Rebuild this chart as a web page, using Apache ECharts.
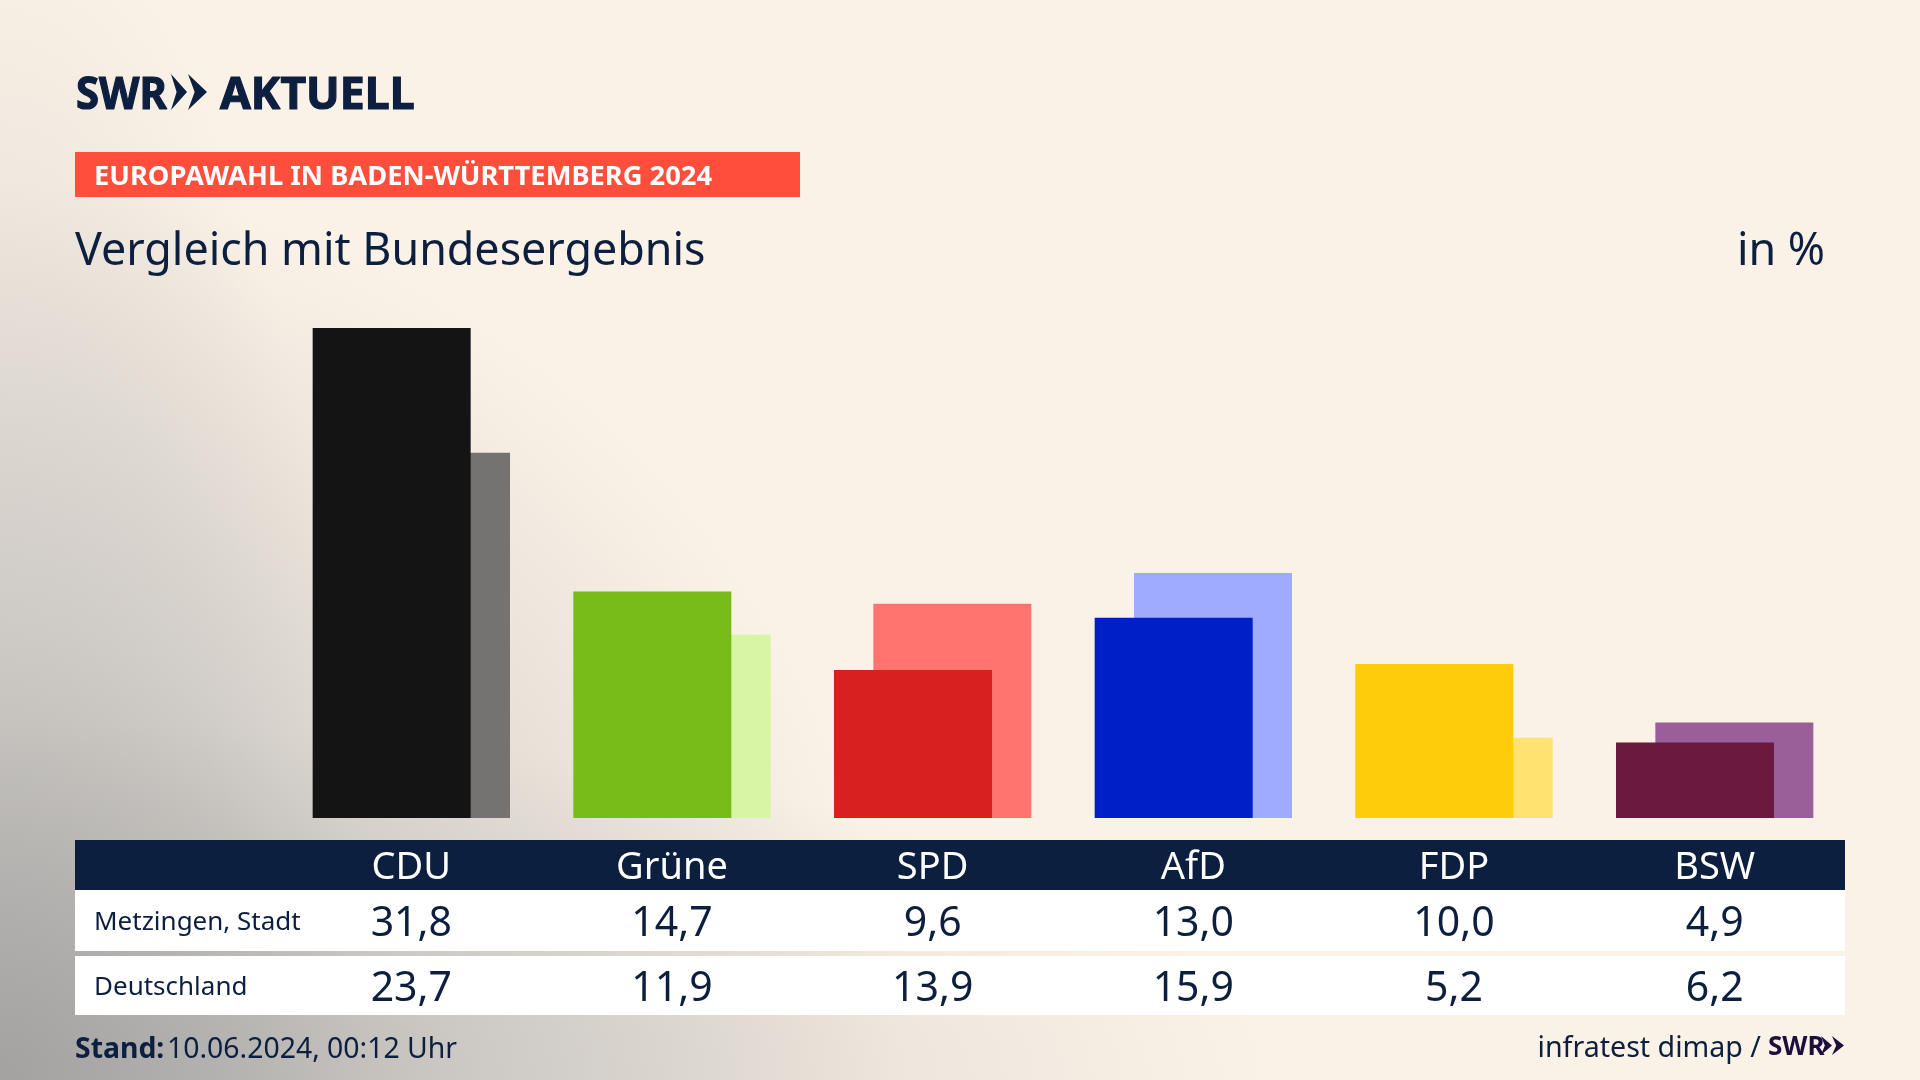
<!DOCTYPE html>
<html>
<head>
<meta charset="UTF-8">
<title>Europawahl in Baden-Württemberg 2024</title>
<script src="https://cdn.jsdelivr.net/npm/echarts@6/dist/echarts.min.js"></script>
<style>
	html, body { margin: 0; padding: 0; width: 1920px; height: 1080px; overflow: hidden; }
	body {
		background:
			radial-gradient(ellipse 900px 900px at 0% 100%, rgba(150,150,150,.70) 0%, rgba(170,170,170,.38) 50%, rgba(190,190,190,0) 100%),
			radial-gradient(ellipse 1280px 360px at 0% 100%, rgba(170,170,170,.50) 0%, rgba(170,170,170,.22) 60%, rgba(170,170,170,0) 100%),
			radial-gradient(ellipse 360px 1200px at 0% 100%, rgba(170,170,170,.42) 0%, rgba(170,170,170,.18) 65%, rgba(170,170,170,0) 100%),
			#fbf2e7;
	}
	#chart { width: 1920px; height: 1080px; }
</style>
</head>
<body>
<div id="chart"></div>
<script>
var parties = ['CDU', 'Grüne', 'SPD', 'AfD', 'FDP', 'BSW'];
var metzingen = [31.8, 14.7, 9.6, 13.0, 10.0, 4.9];
var deutschland = [23.7, 11.9, 13.9, 15.9, 5.2, 6.2];
var colorsMain = ['#141414', '#78bc1a', '#d8201e', '#001fc7', '#ffcc0c', '#6b193f'];
var colorsBund = ['#747372', '#d8f5a6', '#ff746e', '#9eabff', '#ffe26f', '#9a5f99'];

var navy = '#0c1f3f';
var font = '"Noto Sans", sans-serif';
var baseY = 818;

function fmt(v) { return v.toFixed(1).replace('.', ','); }

// extra category axes carry the table texts, so they sit on the bar columns
function tableAxis(data, y, color, size) {
	return {
		type: 'category', data: data, position: 'bottom', z: 10,
		axisLine: { show: false }, axisTick: { show: false },
		axisLabel: { color: color, fontFamily: font, fontSize: size, margin: y - baseY, verticalAlign: 'middle', interval: 0 }
	};
}

function text(x, y, str, size, weight, color, align, scaleX, stroke) {
	return { type: 'text', x: x, y: y, z: 5, scaleX: scaleX || 1, style: {
		text: str, fontFamily: font, fontSize: size, fontWeight: weight, fill: color,
		stroke: stroke ? color : null, lineWidth: stroke || 0,
		align: align || 'left', verticalAlign: 'middle'
	} };
}
function rect(x, y, w, h, color) {
	return { type: 'rect', z: 1, shape: { x: x, y: y, width: w, height: h }, style: { fill: color } };
}
function chevron(x, y, w, h, color) {
	return { type: 'polygon', z: 5, shape: { points: [[x, y], [x + w, y + h / 2], [x, y + h], [x + w * 0.35, y + h / 2]] }, style: { fill: color } };
}

var myChart = echarts.init(document.getElementById('chart'), null, { renderer: 'canvas' });

var option = {
	animation: false,
	backgroundColor: 'transparent',
	grid: { left: 281, right: 75, top: 328, bottom: 262 },
	xAxis: [
		{ type: 'category', data: parties, show: false },
		tableAxis(parties, 868, '#ffffff', 38),
		tableAxis(metzingen.map(fmt), 924, navy, 41),
		tableAxis(deutschland.map(fmt), 989, navy, 41)
	],
	yAxis: { type: 'value', min: 0, max: 31.8, show: false, splitLine: { show: false } },
	series: [
		{
			name: 'Metzingen, Stadt', type: 'bar', data: metzingen, z: 3,
			barWidth: 158, barGap: '-75.1%',
			itemStyle: { color: function (p) { return colorsMain[p.dataIndex]; } }
		},
		{
			name: 'Deutschland', type: 'bar', data: deutschland, z: 2,
			barWidth: 158,
			itemStyle: { color: function (p) { return colorsBund[p.dataIndex]; } }
		}
	],
	graphic: [
		text(76, 96, 'SWR', 45, 700, navy, 'left', 0.93, 1.2),
		chevron(171, 74, 16, 36, navy),
		chevron(188, 74, 19, 36, navy),
		text(220, 96, 'AKTUELL', 45, 700, navy, 'left', 0.99, 1.2),
		rect(75, 152, 725, 45, '#ff4f3c'),
		text(94, 177, 'EUROPAWAHL IN BADEN-WÜRTTEMBERG 2024', 27.3, 700, '#ffffff'),
		text(75, 252, 'Vergleich mit Bundesergebnis', 44.8, 400, navy),
		text(1825, 252, 'in %', 44.8, 400, navy, 'right'),
		rect(75, 840, 1770, 50, navy),
		rect(75, 890, 1770, 61, '#ffffff'),
		rect(75, 956, 1770, 59, '#ffffff'),
		text(94, 923, 'Metzingen, Stadt', 26, 400, navy),
		text(94, 988, 'Deutschland', 26, 400, navy),
		text(75, 1050, 'Stand:', 28.4, 700, navy),
		text(167, 1050, '10.06.2024, 00:12 Uhr', 28.4, 400, navy),
		text(1761, 1049, 'infratest dimap /', 28.6, 400, navy, 'right'),
		text(1768, 1048, 'SWR', 26, 700, '#1d0f3d'),
		chevron(1821, 1036, 11, 19, '#1d0f3d'),
		chevron(1832, 1036, 12, 19, '#1d0f3d')
	]
};
myChart.setOption(option);
</script>
</body>
</html>
